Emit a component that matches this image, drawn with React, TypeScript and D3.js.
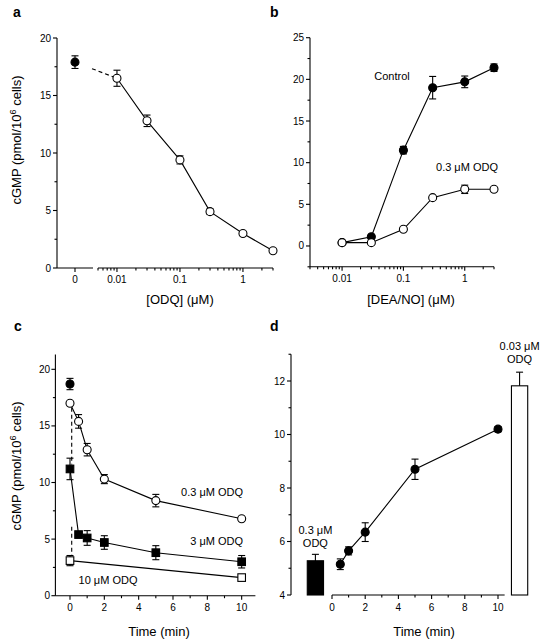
import React from 'react';
import * as d3 from 'd3';

// ---------- Panel a: cGMP vs [ODQ] ----------
const aConc = [0.01, 0.03, 0.1, 0.3, 1, 3];
const aCgmp = [16.5, 12.8, 9.4, 4.9, 3.0, 1.5];
const aErr = [0.7, 0.5, 0.35, 0.25, 0, 0];
const aZeroCgmp = 17.9;
const aZeroErr = 0.55;

// ---------- Panel b: cGMP vs [DEA/NO] ----------
const bConc = [0.01, 0.03, 0.1, 0.3, 1, 3];
const bControl = [0.4, 1.1, 11.5, 19.0, 19.7, 21.4];
const bControlErr = [0, 0, 0.45, 1.35, 0.7, 0.45];
const bOdq = [0.4, 0.4, 2.0, 5.8, 6.8, 6.8];
const bOdqErr = [0, 0, 0, 0, 0.5, 0];

// ---------- Panel c: cGMP vs time ----------
const cControlT = 0;
const cControl = 18.7;
const cControlErr = 0.5;
const cTime = [0, 0.5, 1, 2, 5, 10];
const c03 = [17.0, 15.4, 12.9, 10.3, 8.4, 6.8];
const c03Err = [0, 0.6, 0.55, 0.4, 0.55, 0];
const c3 = [11.2, 5.4, 5.1, 4.7, 3.8, 3.0];
const c3Err = [0.95, 0, 0.65, 0.6, 0.62, 0.55];
const c10Time = [0, 10];
const c10 = [3.1, 1.6];
const c10Err = [0.45, 0];
const cDashT = 0.1;
const cDashSegments = [[16.6, 11.6], [6.1, 3.5]];

// ---------- Panel d: cGMP vs time ----------
const dTime = [0.5, 1, 2, 5, 10];
const dCgmp = [5.15, 5.65, 6.35, 8.7, 10.2];
const dErr = [0.2, 0.15, 0.35, 0.38, 0.1];
const dBarPos = [-1, 11.3];
const dBarValues = [5.28, 11.82];
const dBarErr = [0.24, 0.51];
const dBarFill = ['#000', '#fff'];

const FONT = "'Liberation Sans', Arial, Helvetica, sans-serif";
const SW = 1.1;

type Scale = (v: number) => number;

function LeftAxis({ y, x, y0, y1, major, minor, labelX }: { y: Scale; x: number; y0: number; y1: number; major: number[]; minor: number[]; labelX: number }) {
  return (
    <g>
      <line x1={x} x2={x} y1={y(y0)} y2={y(y1)} stroke="#000" strokeWidth={SW} />
      {major.map((v) => (
        <g key={'M' + v}>
          <line x1={x - 4} x2={x} y1={y(v)} y2={y(v)} stroke="#000" strokeWidth={SW} />
          <text x={labelX} y={y(v)} dy="0.35em" textAnchor="end" fontSize={10} fontFamily={FONT}>{v}</text>
        </g>
      ))}
      {minor.map((v) => (
        <line key={'m' + v} x1={x - 2.5} x2={x} y1={y(v)} y2={y(v)} stroke="#000" strokeWidth={SW} />
      ))}
    </g>
  );
}

function BottomAxis({ xs, y, x0, x1, major, minor, labels, labelY }: { xs: Scale; y: number; x0: number; x1: number; major: number[]; minor: number[]; labels: string[]; labelY: number }) {
  return (
    <g>
      <line x1={x0} x2={x1} y1={y} y2={y} stroke="#000" strokeWidth={SW} />
      {major.map((v, i) => (
        <g key={'M' + v}>
          <line x1={xs(v)} x2={xs(v)} y1={y} y2={y + 4} stroke="#000" strokeWidth={SW} />
          <text x={xs(v)} y={labelY} textAnchor="middle" fontSize={10} fontFamily={FONT}>{labels[i]}</text>
        </g>
      ))}
      {minor.map((v) => (
        <line key={'m' + v} x1={xs(v)} x2={xs(v)} y1={y} y2={y + 2.5} stroke="#000" strokeWidth={SW} />
      ))}
    </g>
  );
}

function ErrBar({ x, y, v, e }: { x: number; y: Scale; v: number; e: number }) {
  if (!e) return null;
  const t = y(v + e), b = y(v - e);
  return (
    <g stroke="#000" strokeWidth={SW}>
      <line x1={x} x2={x} y1={t} y2={b} />
      <line x1={x - 3.5} x2={x + 3.5} y1={t} y2={t} />
      <line x1={x - 3.5} x2={x + 3.5} y1={b} y2={b} />
    </g>
  );
}

function Circle({ x, y, filled }: { x: number; y: number; filled: boolean }) {
  return <circle cx={x} cy={y} r={4} fill={filled ? '#000' : '#fff'} stroke="#000" strokeWidth={SW} />;
}
function Square({ x, y, filled }: { x: number; y: number; filled: boolean }) {
  return <rect x={x - 3.8} y={y - 3.8} width={7.6} height={7.6} fill={filled ? '#000' : '#fff'} stroke="#000" strokeWidth={SW} />;
}

function logMinor(lo: number, hi: number): number[] {
  const out: number[] = [];
  for (let p = -4; p <= 2; p++) {
    for (let m = 1; m <= 9; m++) {
      const v = m * Math.pow(10, p);
      if (m === 1) continue;
      if (v >= lo * 0.999 && v <= hi * 1.001) out.push(+v.toPrecision(3));
    }
  }
  return out;
}

function YTitle({ x, y }: { x: number; y: number }) {
  return (
    <text transform={`translate(${x},${y}) rotate(-90)`} textAnchor="middle" fontSize={13} fontFamily={FONT}>
      cGMP (pmol/10<tspan dy="-5" fontSize={9}>6</tspan><tspan dy="5"> cells)</tspan>
    </text>
  );
}

function PanelA() {
  const y = d3.scaleLinear().domain([0, 20]).range([268, 38]);
  const xZero = d3.scalePoint<string>().domain(['0']).range([57, 93]).padding(0.5);
  const x = d3.scaleLog().domain([0.005, 3]).range([98, 273]);
  const line = d3.line<number>().x((_, i) => x(aConc[i])).y((d) => y(d));
  const zx = xZero('0') as number;
  // dashed connector from zero point toward first ODQ point, starting after axis break
  const x0 = zx, y0 = y(aZeroCgmp), x1 = x(aConc[0]), y1 = y(aCgmp[0]);
  const breakX = x.range()[0] - 6;
  const t = (breakX - x0) / (x1 - x0);
  const dashStart = [breakX, y0 + t * (y1 - y0)];
  return (
    <g>
      <text x={13} y={17} fontSize={14} fontWeight="bold" fontFamily={FONT}>a</text>
      <LeftAxis y={y} x={57} y0={0} y1={20} major={[0, 5, 10, 15, 20]} minor={[2.5, 7.5, 12.5, 17.5]} labelX={51} />
      <line x1={57} x2={93} y1={268} y2={268} stroke="#000" strokeWidth={SW} />
      <line x1={zx} x2={zx} y1={268} y2={272} stroke="#000" strokeWidth={SW} />
      <text x={zx} y={283} textAnchor="middle" fontSize={10} fontFamily={FONT}>0</text>
      <BottomAxis xs={x} y={268} x0={98} x1={273} major={[0.01, 0.1, 1]} minor={logMinor(0.005, 3)} labels={['0.01', '0.1', '1']} labelY={283} />
      <text x={180} y={304} textAnchor="middle" fontSize={13} fontFamily={FONT}>[ODQ] (μM)</text>
      <YTitle x={21} y={140} />
      <line x1={dashStart[0]} y1={dashStart[1]} x2={x1} y2={y1} stroke="#000" strokeWidth={SW} strokeDasharray="4,3" />
      <path d={line(aCgmp) || ''} fill="none" stroke="#000" strokeWidth={SW} />
      <ErrBar x={zx} y={y} v={aZeroCgmp} e={aZeroErr} />
      <Circle x={zx} y={y(aZeroCgmp)} filled />
      {aCgmp.map((v, i) => (
        <g key={i}>
          <ErrBar x={x(aConc[i])} y={y} v={v} e={aErr[i]} />
          <Circle x={x(aConc[i])} y={y(v)} filled={false} />
        </g>
      ))}
    </g>
  );
}

function PanelB() {
  const y = d3.scaleLinear().domain([-2.5, 25]).range([266.8, 37.7]);
  const x = d3.scaleLog().domain([0.003, 3]).range([310, 494]);
  const line = d3.line<number>().x((_, i) => x(bConc[i])).y((d) => y(d));
  return (
    <g>
      <text x={270} y={17} fontSize={14} fontWeight="bold" fontFamily={FONT}>b</text>
      <LeftAxis y={y} x={310} y0={-2.5} y1={25} major={[0, 5, 10, 15, 20, 25]} minor={[-2.5, 2.5, 7.5, 12.5, 17.5, 22.5]} labelX={304} />
      <BottomAxis xs={x} y={266.8} x0={310} x1={494} major={[0.01, 0.1, 1]} minor={logMinor(0.003, 3)} labels={['0.01', '0.1', '1']} labelY={282} />
      <text x={411} y={304} textAnchor="middle" fontSize={13} fontFamily={FONT}>[DEA/NO] (μM)</text>
      <path d={line(bControl) || ''} fill="none" stroke="#000" strokeWidth={SW} />
      <path d={line(bOdq) || ''} fill="none" stroke="#000" strokeWidth={SW} />
      {bControl.map((v, i) => (
        <g key={'c' + i}>
          <ErrBar x={x(bConc[i])} y={y} v={v} e={bControlErr[i]} />
          <Circle x={x(bConc[i])} y={y(v)} filled />
        </g>
      ))}
      {bOdq.map((v, i) => (
        <g key={'o' + i}>
          <ErrBar x={x(bConc[i])} y={y} v={v} e={bOdqErr[i]} />
          <Circle x={x(bConc[i])} y={y(v)} filled={false} />
        </g>
      ))}
      <text x={392} y={80} textAnchor="middle" fontSize={11} fontFamily={FONT}>Control</text>
      <text x={467} y={171} textAnchor="middle" fontSize={11} fontFamily={FONT}>0.3 μM ODQ</text>
    </g>
  );
}

function PanelC() {
  const y = d3.scaleLinear().domain([0, 21.3]).range([595.7, 354.6]);
  const x = d3.scaleLinear().domain([-0.85, 10.8]).range([55.4, 255.4]);
  const mk = (ts: number[]) => d3.line<number>().x((_, i) => x(ts[i])).y((d) => y(d));
  return (
    <g>
      <text x={14} y={331} fontSize={14} fontWeight="bold" fontFamily={FONT}>c</text>
      <LeftAxis y={y} x={55.4} y0={0} y1={21.3} major={[0, 5, 10, 15, 20]} minor={[2.5, 7.5, 12.5, 17.5]} labelX={50} />
      <BottomAxis xs={x} y={595.7} x0={55.4} x1={255.4} major={[0, 2, 4, 6, 8, 10]} minor={[1, 3, 5, 7, 9]} labels={['0', '2', '4', '6', '8', '10']} labelY={611} />
      <text x={159} y={636} textAnchor="middle" fontSize={13} fontFamily={FONT}>Time (min)</text>
      <YTitle x={21} y={466} />
      {cDashSegments.map((s, i) => (
        <line key={i} x1={x(cDashT)} x2={x(cDashT)} y1={y(s[0])} y2={y(s[1])} stroke="#000" strokeWidth={SW} strokeDasharray="4,3" />
      ))}
      <path d={mk(cTime)(c03) || ''} fill="none" stroke="#000" strokeWidth={SW} />
      <path d={mk(cTime)(c3) || ''} fill="none" stroke="#000" strokeWidth={SW} />
      <path d={mk(c10Time)(c10) || ''} fill="none" stroke="#000" strokeWidth={SW} />
      <ErrBar x={x(cControlT)} y={y} v={cControl} e={cControlErr} />
      <Circle x={x(cControlT)} y={y(cControl)} filled />
      {c03.map((v, i) => (
        <g key={'a' + i}>
          <ErrBar x={x(cTime[i])} y={y} v={v} e={c03Err[i]} />
          <Circle x={x(cTime[i])} y={y(v)} filled={false} />
        </g>
      ))}
      {c3.map((v, i) => (
        <g key={'b' + i}>
          <ErrBar x={x(cTime[i])} y={y} v={v} e={c3Err[i]} />
          <Square x={x(cTime[i])} y={y(v)} filled />
        </g>
      ))}
      {c10.map((v, i) => (
        <g key={'c' + i}>
          <ErrBar x={x(c10Time[i])} y={y} v={v} e={c10Err[i]} />
          <Square x={x(c10Time[i])} y={y(v)} filled={false} />
        </g>
      ))}
      <text x={243} y={496} textAnchor="end" fontSize={11} fontFamily={FONT}>0.3 μM ODQ</text>
      <text x={243} y={545} textAnchor="end" fontSize={11} fontFamily={FONT}>3 μM ODQ</text>
      <text x={108} y={584} textAnchor="middle" fontSize={11} fontFamily={FONT}>10 μM ODQ</text>
    </g>
  );
}

function PanelD() {
  const y = d3.scaleLinear().domain([4, 13]).range([595, 354.25]);
  const x = d3.scaleLinear().domain([0, 10]).range([332, 498]);
  const line = d3.line<number>().x((_, i) => x(dTime[i])).y((d) => y(d));
  const bw = x(0.98) - x(0);
  return (
    <g>
      <text x={270} y={331} fontSize={14} fontWeight="bold" fontFamily={FONT}>d</text>
      <LeftAxis y={y} x={291} y0={4} y1={13} major={[4, 6, 8, 10, 12]} minor={[5, 7, 9, 11, 13]} labelX={285} />
      <BottomAxis xs={x} y={595} x0={x(0)} x1={x(10.4)} major={[0, 2, 4, 6, 8, 10]} minor={[1, 3, 5, 7, 9]} labels={['0', '2', '4', '6', '8', '10']} labelY={611} />
      <text x={424} y={636} textAnchor="middle" fontSize={13} fontFamily={FONT}>Time (min)</text>
      {dBarValues.map((v, i) => (
        <g key={'bar' + i}>
          <ErrBar x={x(dBarPos[i])} y={y} v={v} e={dBarErr[i]} />
          <rect x={x(dBarPos[i]) - bw / 2} y={y(v)} width={bw} height={y(4) - y(v)} fill={dBarFill[i]} stroke="#000" strokeWidth={SW} />
        </g>
      ))}
      <path d={line(dCgmp) || ''} fill="none" stroke="#000" strokeWidth={SW} />
      {dCgmp.map((v, i) => (
        <g key={i}>
          <ErrBar x={x(dTime[i])} y={y} v={v} e={dErr[i]} />
          <Circle x={x(dTime[i])} y={y(v)} filled />
        </g>
      ))}
      <text x={x(dBarPos[0])} y={534} textAnchor="middle" fontSize={11} fontFamily={FONT}>0.3 μM</text>
      <text x={x(dBarPos[0])} y={547} textAnchor="middle" fontSize={11} fontFamily={FONT}>ODQ</text>
      <text x={x(dBarPos[1])} y={350} textAnchor="middle" fontSize={11} fontFamily={FONT}>0.03 μM</text>
      <text x={x(dBarPos[1])} y={363} textAnchor="middle" fontSize={11} fontFamily={FONT}>ODQ</text>
    </g>
  );
}

export default function App() {
  return (
    <svg width={544} height={640} style={{ position: 'absolute', left: 0, top: 0, background: '#fff' }}>
      <rect width={544} height={640} fill="#fff" />
      <PanelA />
      <PanelB />
      <PanelC />
      <PanelD />
    </svg>
  );
}
